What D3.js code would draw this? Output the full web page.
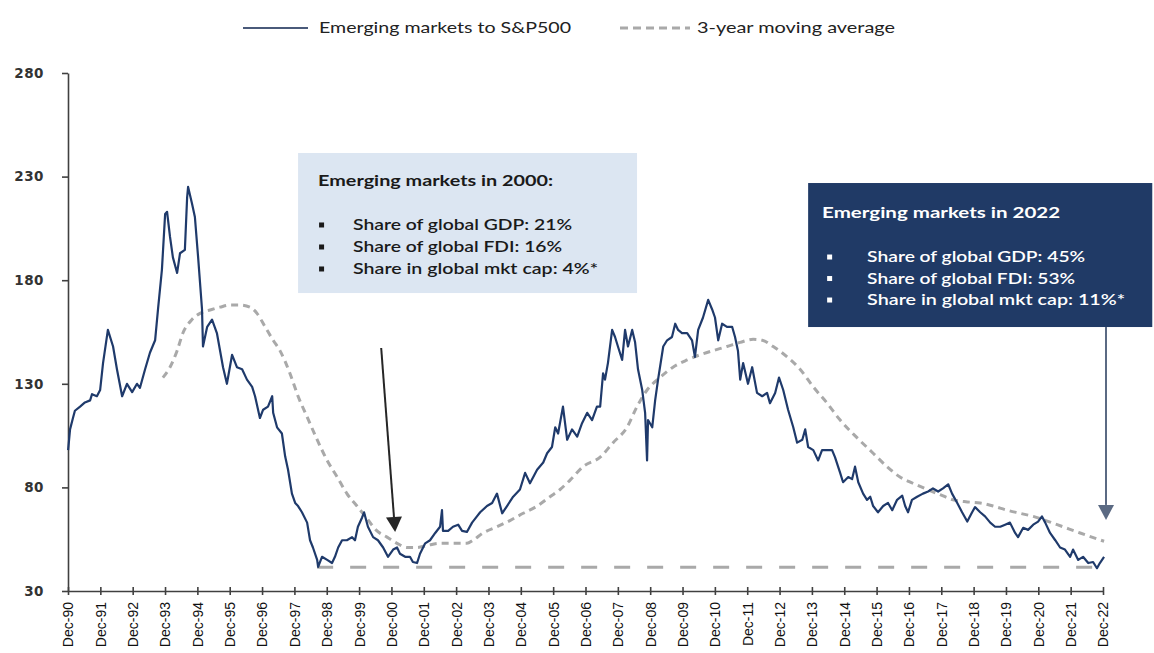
<!DOCTYPE html>
<html>
<head>
<meta charset="utf-8">
<script src="https://cdn.jsdelivr.net/npm/d3@7"></script>
<style>
  html, body { margin: 0; padding: 0; background: #ffffff; }
  svg { display: block; }
</style>
</head>
<body>
<svg id="chart" width="1154" height="653"></svg>
<script>
// ---------------- DATA ----------------
const seriesNames = ["Emerging markets to S&P500", "3-year moving average"];

const yTicks = [30, 80, 130, 180, 230, 280];
const tickYears = d3.range(1990, 2023);               // Dec-90 ... Dec-22
const tickLabels = tickYears.map(y => "Dec-" + String(y % 100).padStart(2, "0"));

// Emerging markets relative to S&P500 (decimal year)
const emDates = [
1990.92,1990.98,1991.07,1991.13,1991.29,1991.44,1991.60,1991.66,1991.81,1991.91,
1992.00,1992.15,1992.31,1992.43,1992.59,1992.74,1992.90,1993.05,1993.14,1993.30,
1993.45,1993.61,1993.70,1993.82,1993.92,1993.98,1994.07,1994.16,1994.29,1994.38,
1994.53,1994.60,1994.63,1994.75,1994.84,1994.94,1995.06,1995.09,1995.22,1995.37,
1995.52,1995.71,1995.83,1995.99,1996.14,1996.30,1996.45,1996.61,1996.70,1996.85,
1996.95,1997.10,1997.23,1997.26,1997.38,1997.53,1997.63,1997.72,1997.84,1997.94,
1998.03,1998.15,1998.31,1998.40,1998.49,1998.62,1998.65,1998.77,1998.93,1999.08,
1999.17,1999.27,1999.39,1999.54,1999.70,1999.79,1999.88,2000.01,2000.07,2000.19,
2000.35,2000.50,2000.66,2000.81,2000.97,2001.09,2001.18,2001.34,2001.49,2001.58,
2001.71,2001.80,2001.96,2002.11,2002.27,2002.42,2002.48,2002.51,2002.67,2002.82,
2002.98,2003.10,2003.25,2003.41,2003.56,2003.66,2003.87,2004.03,2004.18,2004.34,
2004.49,2004.68,2004.89,2005.05,2005.20,2005.42,2005.61,2005.73,2005.88,2005.98,
2006.07,2006.22,2006.35,2006.50,2006.66,2006.81,2006.97,2007.12,2007.27,2007.37,
2007.46,2007.52,2007.61,2007.74,2007.83,2007.92,2008.05,2008.14,2008.23,2008.36,
2008.45,2008.54,2008.67,2008.76,2008.82,2008.85,2008.98,2009.07,2009.16,2009.32,
2009.44,2009.59,2009.69,2009.78,2009.90,2010.06,2010.21,2010.30,2010.40,2010.55,
2010.71,2010.83,2010.92,2011.02,2011.14,2011.29,2011.45,2011.54,2011.63,2011.70,
2011.79,2011.94,2012.07,2012.22,2012.38,2012.53,2012.62,2012.78,2012.90,2013.03,
2013.18,2013.34,2013.46,2013.62,2013.71,2013.80,2013.96,2014.11,2014.23,2014.39,
2014.54,2014.63,2014.79,2014.88,2015.04,2015.16,2015.25,2015.35,2015.50,2015.62,
2015.72,2015.81,2015.96,2016.12,2016.27,2016.40,2016.55,2016.71,2016.80,2016.89,
2017.01,2017.17,2017.35,2017.51,2017.66,2017.82,2017.97,2018.13,2018.25,2018.41,
2018.56,2018.72,2018.87,2018.96,2019.12,2019.27,2019.43,2019.58,2019.74,2019.89,
2020.04,2020.20,2020.29,2020.45,2020.60,2020.76,2020.91,2021.03,2021.13,2021.28,
2021.44,2021.59,2021.74,2021.90,2021.99,2022.15,2022.30,2022.46,2022.61,2022.73,
2022.82,2022.95
];
const emValues = [
98,108,113.5,117,119,121,122,125,124,127,
140,156,148,137,124,130,126,130,128,137,
145,151,166,185,212,213,201,191,183.5,193,
194.6,220,225,217,210.5,191,166,148,157.5,161,
154.5,138,130,144,138,137,132,128.5,124,113.5,
117.5,119,124,116,109,106,95,88.5,77,72.5,
71,68,63,54.5,51,45,41.6,46.5,45,43.5,
46.5,51,54.5,54.5,56,54.5,61,65.5,68,61,
56,54.5,51,46.5,50,51,48,46.5,46.5,44,
43.5,48,53,54.5,58,61,69,59,59,61,
62,59,58.5,63,66,68,71,72.5,77,67.5,
71,75.5,79,87,82,88.5,92,96.5,99.5,109,
106,119,103,108,104.5,111,116,112.5,119,119,
135,132,140,156,152.6,148,141.5,156,148,156,
150,137,127,116,93,112.5,109,122,132,148,
151,152.6,159,156,154.5,154.5,151,143,156,162,
170.5,166,162,151,159,157.5,157.5,152.6,146,132,
140,130,138,125.6,124,125.6,120.6,125.6,133,127,
117.5,109,101.6,103,108,99.5,98,93,98,98,
98,94.6,87,82.5,85,84,90,82.5,77,74,
75.5,71,68,71,72.5,69,74,76,71,68,
74,75.5,77,78,79.5,78,79.5,81.5,77,72.5,
68,63.5,68,70.5,68,66,63,61,61,62,
63,58,56,60.5,59.5,62,63.5,66,63,58,
54.5,51,50,46.5,50,45,46.5,43.5,44,41,
43.5,46.5
];

// 3-year moving average
const maDates = [
1993.85,1994.07,1994.29,1994.47,1994.75,1995.00,1995.31,1995.62,1995.93,1996.24,
1996.54,1996.76,1997.01,1997.26,1997.47,1997.78,1998.03,1998.31,1998.62,1998.93,
1999.24,1999.54,1999.85,2000.16,2000.47,2000.78,2001.09,2001.40,2001.71,2002.02,
2002.42,2002.82,2003.25,2003.44,2003.75,2004.18,2004.58,2004.99,2005.42,2005.82,
2006.13,2006.44,2006.84,2007.37,2007.77,2008.20,2008.51,2008.82,2009.22,2009.62,
2010.06,2010.46,2010.86,2011.29,2011.70,2012.10,2012.38,2012.72,2013.15,2013.55,
2013.96,2014.39,2014.79,2015.31,2015.81,2016.24,2016.64,2017.04,2017.48,2017.88,
2018.28,2018.72,2019.12,2019.52,2019.95,2020.35,2020.76,2021.50,2022.21,2022.95
];
const maValues = [
133,138,146,154.5,161,164,165.6,167,168,168,
167,164,157.5,151,146,135,124,114,103,93,
85,77,71,65,59,56,53,51,51,52,
53,53,53,54.5,58,61,64,67.5,71,75.5,
79,83.5,90,94.6,101.6,109,119,127,133,138,
141.5,144,146,148,150,151.5,151,148,143,137,
128.5,120.6,112.5,104,96.5,90,85,82,79,76.5,
74,73,72.5,71,69,67.5,66,62,58,54
];

// Floor line (series low since 1998)
const floorValue = 41.5;
const floorDates = [1998.62, 2022.95];

// Annotation boxes
const box2000Title = "Emerging markets in 2000:";
const box2000Lines = ["Share of global GDP: 21%", "Share of global FDI: 16%", "Share in global mkt cap: 4%*"];
const box2022Title = "Emerging markets in 2022";
const box2022Lines = ["Share of global GDP: 45%", "Share of global FDI: 53%", "Share in global mkt cap: 11%*"];

// Annotation anchors in data space [year, value]
const box2000Extent = [[1998.03, 241.4], [2008.51, 173.8]];
const box2022Extent = [[2013.80, 226.9], [2024.44, 157.4]];
const arrow2000 = [[2000.60, 147.3], [2001.03, 58.5]];
const arrow2022 = [[2023.01, 157.4], [2023.01, 64.3]];

// ---------------- CHART ----------------
const svg = d3.select("#chart");
const navy = "#1f3a6b";
const grey = "#a9a9a9";

const x = d3.scaleLinear().domain([1990 + 11/12, 2022 + 11/12]).range([68, 1103]);
const y = d3.scaleLinear().domain([30, 280]).range([591, 73]);

// Y axis
const yAxis = svg.append("g")
  .attr("transform", `translate(${x.range()[0]},0)`)
  .call(d3.axisLeft(y).tickValues(yTicks).tickSize(6).tickSizeOuter(0).tickPadding(18));
yAxis.select(".domain").attr("stroke", "#404040").attr("stroke-width", 1.6);
yAxis.selectAll(".tick line").attr("stroke", "#404040").attr("stroke-width", 1.6);
yAxis.selectAll(".tick text")
  .attr("font-family", "DejaVu Sans, sans-serif")
  .attr("font-size", 13.5)
  .attr("font-weight", "bold")
  .attr("letter-spacing", 0.5)
  .attr("fill", "#333");

// X axis
const xAxis = svg.append("g")
  .attr("transform", `translate(0,${y(30)})`)
  .call(d3.axisBottom(x).tickValues(tickYears.map(v => v + 11/12)).tickSizeOuter(0)
    .tickFormat((d, i) => tickLabels[i]));
xAxis.select(".domain").attr("stroke", "#404040").attr("stroke-width", 1.6);
xAxis.selectAll(".tick line").attr("y1", -4).attr("y2", 4).attr("stroke", "#404040").attr("stroke-width", 1.6);
xAxis.selectAll(".tick text")
  .attr("transform", "rotate(-90)")
  .attr("x", -11)
  .attr("y", 0)
  .attr("dy", "0.35em")
  .attr("text-anchor", "end")
  .attr("font-family", "Liberation Sans, Arial, sans-serif")
  .attr("font-size", 14)
  .attr("fill", "#111");

// Floor dashed line
svg.append("line")
  .attr("x1", x(floorDates[0])).attr("x2", x(floorDates[1]))
  .attr("y1", y(floorValue)).attr("y2", y(floorValue))
  .attr("stroke", grey).attr("stroke-width", 3).attr("stroke-dasharray", "16,17");

// Moving average
const maData = maDates.map((d, i) => [d, maValues[i]]);
svg.append("path")
  .datum(maData)
  .attr("fill", "none")
  .attr("stroke", grey)
  .attr("stroke-width", 3)
  .attr("stroke-dasharray", "7,5")
  .attr("d", d3.line().x(d => x(d[0])).y(d => y(d[1])).curve(d3.curveMonotoneX));

// Main series
const emData = emDates.map((d, i) => [d, emValues[i]]);
svg.append("path")
  .datum(emData)
  .attr("fill", "none")
  .attr("stroke", navy)
  .attr("stroke-width", 2.2)
  .attr("stroke-linejoin", "round")
  .attr("d", d3.line().x(d => x(d[0])).y(d => y(d[1])));

// Legend
const legend = svg.append("g");
legend.append("line").attr("x1", 243).attr("x2", 308).attr("y1", 28).attr("y2", 28)
  .attr("stroke", "#4a5a7a").attr("stroke-width", 2);
legend.append("text").attr("x", 319).attr("y", 33)
  .attr("font-family", "Lato, sans-serif").attr("font-size", 15).attr("fill", "#222")
  .attr("textLength", 252).attr("lengthAdjust", "spacingAndGlyphs")
  .text(seriesNames[0]);
legend.append("line").attr("x1", 620).attr("x2", 690).attr("y1", 28).attr("y2", 28)
  .attr("stroke", grey).attr("stroke-width", 3).attr("stroke-dasharray", "8,5");
legend.append("text").attr("x", 697).attr("y", 33)
  .attr("font-family", "Lato, sans-serif").attr("font-size", 15).attr("fill", "#222")
  .attr("textLength", 198).attr("lengthAdjust", "spacingAndGlyphs")
  .text(seriesNames[1]);

// Annotation boxes
function drawBox(ext, fill, color, title, lines, titleLen, lineLens, titleDx, titleDy, textDx, bulletDx, rowDy) {
  const x0 = x(ext[0][0]), y0 = y(ext[0][1]), x1 = x(ext[1][0]), y1 = y(ext[1][1]);
  const g = svg.append("g");
  g.append("rect").attr("x", x0).attr("y", y0).attr("width", x1 - x0).attr("height", y1 - y0).attr("fill", fill);
  g.append("text").attr("x", x0 + titleDx).attr("y", y0 + titleDy)
    .attr("font-family", "Lato, sans-serif").attr("font-weight", "bold").attr("font-size", 15.5)
    .attr("fill", color).attr("textLength", titleLen).attr("lengthAdjust", "spacingAndGlyphs")
    .text(title);
  lines.forEach((t, i) => {
    const cy = y0 + rowDy[0] + i * rowDy[1];
    g.append("rect").attr("x", x0 + bulletDx).attr("y", cy - 2.5).attr("width", 5).attr("height", 5).attr("fill", color);
    g.append("text").attr("x", x0 + textDx).attr("y", cy + 5)
      .attr("font-family", "Lato, sans-serif").attr("font-weight", 600).attr("font-size", 15)
      .attr("fill", color).attr("textLength", lineLens[i]).attr("lengthAdjust", "spacingAndGlyphs")
      .text(t);
  });
}
drawBox(box2000Extent, "#dce6f2", "#1a1a1a", box2000Title, box2000Lines, 235, [219, 209, 245], 20, 33, 55, 21, [72, 22]);
drawBox(box2022Extent, "#203a66", "#ffffff", box2022Title, box2022Lines, 238, [218, 208, 258], 14, 35, 59, 19, [74, 21.5]);

// Arrows
function drawArrow(pts, color) {
  const [ax, ay] = [x(pts[0][0]), y(pts[0][1])];
  const [bx, by] = [x(pts[1][0]), y(pts[1][1])];
  const ang = Math.atan2(by - ay, bx - ax);
  const len = 15, half = 8;
  const hx = bx - len * Math.cos(ang), hy = by - len * Math.sin(ang);
  svg.append("line").attr("x1", ax).attr("y1", ay).attr("x2", hx).attr("y2", hy)
    .attr("stroke", color).attr("stroke-width", 2);
  const px = -Math.sin(ang), py = Math.cos(ang);
  svg.append("path")
    .attr("d", `M${bx},${by}L${hx + half * px},${hy + half * py}L${hx - half * px},${hy - half * py}Z`)
    .attr("fill", color);
}
drawArrow(arrow2000, "#262626");
drawArrow(arrow2022, "#5b6a83");
</script>
</body>
</html>
